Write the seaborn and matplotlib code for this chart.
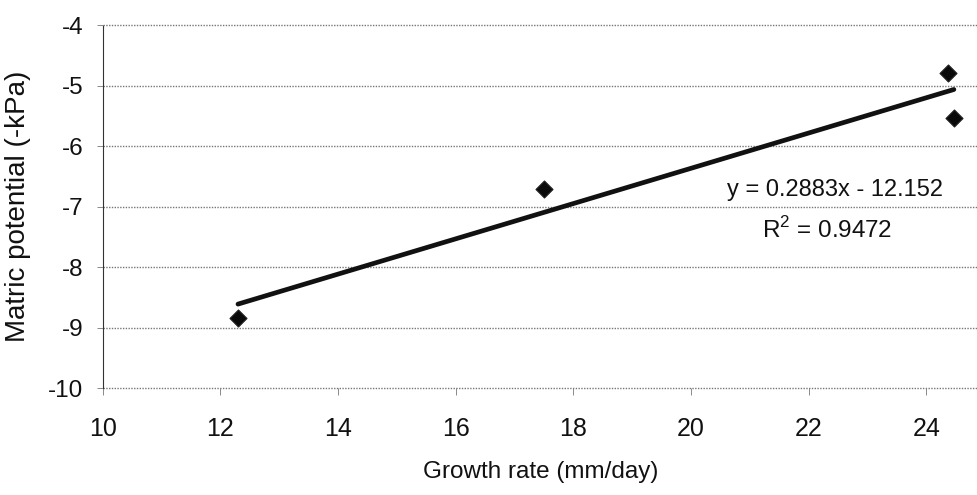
import matplotlib
matplotlib.use("Agg")
import matplotlib.pyplot as plt
import seaborn as sns
import numpy as np
import pandas as pd

growth_rate = [12.3, 17.5, 24.37, 24.47]
matric_potential = [-8.84, -6.70, -4.79, -5.53]
x_ticks = [10, 12, 14, 16, 18, 20, 22, 24]
y_ticks = [-4, -5, -6, -7, -8, -9, -10]
equation_text = "y = 0.2883x - 12.152"
r2_text = "R$^2$ = 0.9472"

sns.set_theme(style="white")
plt.rcParams['font.family'] = ['Liberation Sans', 'DejaVu Sans']
plt.rcParams['mathtext.fontset'] = 'custom'
plt.rcParams['mathtext.rm'] = 'Liberation Sans'
plt.rcParams['text.color'] = '#111111'
plt.rcParams['axes.labelcolor'] = '#111111'
plt.rcParams['xtick.labelcolor'] = '#111111'
plt.rcParams['ytick.labelcolor'] = '#111111'

df = pd.DataFrame({"x": growth_rate, "y": matric_potential})

fig = plt.figure(figsize=(9.78, 4.95), dpi=100)
ax = fig.add_axes([0.105, 0.216, 0.895, 0.733])

sns.regplot(data=df, x="x", y="y", ax=ax, ci=None, truncate=True,
            marker="D",
            scatter_kws=dict(s=75, color="#0a0a0a", edgecolor="#222222", linewidths=0.8, alpha=1, zorder=3),
            line_kws=dict(color="#111111", linewidth=3.4, zorder=2))

ax.set_xlim(10, 24.88)
ax.set_ylim(-10, -4)
ax.set_xticks(x_ticks)
ax.set_yticks(y_ticks)
ax.set_yticklabels([str(v) for v in y_ticks])

for v in y_ticks:
    ax.axhline(v, color="#777777", linewidth=1.0, linestyle=(0, (1, 1)), zorder=1, clip_on=False)

for s in ["top", "right", "bottom"]:
    ax.spines[s].set_visible(False)
ax.spines["left"].set_color("#333333")
ax.spines["left"].set_linewidth(0.8)
ax.spines["left"].set_linestyle((0, (2, 1)))

ax.tick_params(axis="x", which="both", bottom=True, length=5, width=0.6, color="#777777",
               labelsize=18, pad=16)
ax.tick_params(axis="y", which="both", left=True, length=4, width=0.6, color="#777777",
               labelsize=17.5, pad=10)

ax.set_xlabel("Growth rate (mm/day)", fontsize=17.5, labelpad=14)
ax.set_ylabel("Matric potential (-kPa)", fontsize=20, labelpad=12)

ax.text(0.7136, 0.545, equation_text, transform=ax.transAxes, fontsize=17, ha="left", va="center", color="#111111")
ax.text(0.753, 0.437, r2_text, transform=ax.transAxes, fontsize=17.5, ha="left", va="center", color="#111111")

fig.savefig("out.png", dpi=100)
